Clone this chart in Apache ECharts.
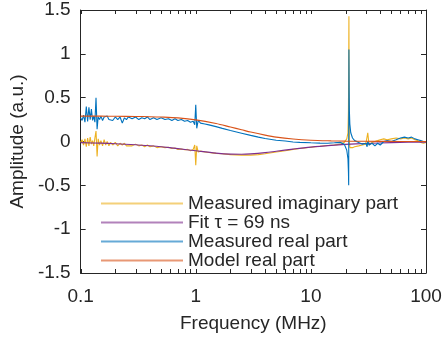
<!DOCTYPE html>
<html>
<head>
<meta charset="utf-8">
<script src="https://cdn.jsdelivr.net/npm/echarts@6/dist/echarts.min.js"></script>
<style>
  html, body { margin: 0; padding: 0; background: #fff; }
  #chart { width: 445px; height: 338px; }
</style>
</head>
<body>
<div id="chart"></div>
<script>
// smooth curves (fit / model), frequency in MHz
const modelFreqs = [0.1, 0.15, 0.2, 0.3, 0.4, 0.5, 0.7, 1, 1.5, 2, 2.5, 3, 4, 5, 7, 10, 15, 20, 30, 50, 70, 100];
const fitImag = [-0.013, -0.019, -0.025, -0.037, -0.049, -0.06, -0.081, -0.106, -0.133, -0.144, -0.145, -0.141,
  -0.127, -0.111, -0.087, -0.064, -0.044, -0.033, -0.022, -0.013, -0.009, -0.007];
const modelReal = [0.29, 0.289, 0.288, 0.286, 0.283, 0.279, 0.269, 0.247, 0.205, 0.165, 0.134, 0.108,
  0.073, 0.05, 0.028, 0.014, 0.007, 0.004, 0.002, 0.001, 0.0005, 0];

// measured curves
const measFreqs = [0.100, 0.103, 0.106, 0.109, 0.112, 0.115, 0.118, 0.121, 0.124, 0.127, 0.130, 0.133, 0.136, 0.139,
  0.142, 0.146, 0.150, 0.155, 0.160, 0.165, 0.170, 0.176, 0.182, 0.19, 0.2, 0.21, 0.22, 0.23, 0.24, 0.25, 0.26,
  0.28, 0.3, 0.32, 0.34, 0.36, 0.38, 0.4, 0.43, 0.46, 0.5, 0.54, 0.58, 0.62, 0.66, 0.7, 0.75, 0.8, 0.85, 0.9,
  0.95, 0.98, 1.0, 1.02, 1.05, 1.1, 1.2, 1.3, 1.5, 1.7, 2, 2.5, 3, 3.5, 4, 5, 6, 7, 8, 10, 12, 14, 16, 18, 19.5,
  20.5, 21.0, 21.2, 21.3, 21.4, 21.5, 21.6, 21.8, 22.2, 23, 24, 26, 28, 30, 30.8, 31.2, 32, 34, 36, 38, 40, 43,
  46, 50, 55, 60, 65, 70, 75, 80, 85, 90, 95, 100];
const measImag = [-0.01, 0.02, -0.04, 0.03, -0.06, 0.04, -0.05, 0.05, -0.03, 0.01, -0.05, 0.04, 0.12, -0.17,
  0.03, -0.04, 0.01, -0.05, 0.02, -0.04, 0.0, -0.05, -0.01, -0.04, -0.01, -0.05, -0.02, -0.04, -0.02, -0.05, -0.03,
  -0.05, -0.03, -0.05, -0.04, -0.06, -0.04, -0.06, -0.05, -0.07, -0.06, -0.07, -0.065, -0.08, -0.075, -0.09, -0.085, -0.095, -0.09, -0.105,
  -0.09, -0.04, -0.27, -0.05, -0.12, -0.11, -0.12, -0.125, -0.135, -0.14, -0.15, -0.155, -0.155, -0.15, -0.14, -0.12, -0.105, -0.09, -0.08, -0.065, -0.055, -0.045, -0.04, -0.03, -0.01,
  0.03, 0.1, 0.35, 0.8, 1.43, 0.3, 0.0, -0.07, -0.08, -0.07, -0.06, -0.05, -0.04, -0.03, -0.02, 0.1, -0.04, -0.01, 0.0, 0.01, 0.02, 0.03,
  0.02, 0.03, 0.04, 0.03, 0.04, 0.03, 0.04, 0.02, 0.01, -0.01, -0.02, -0.01];
const measReal = [0.27, 0.24, 0.30, 0.22, 0.40, 0.23, 0.39, 0.25, 0.37, 0.24, 0.29, 0.22, 0.50, 0.14,
  0.28, 0.25, 0.29, 0.24, 0.28, 0.26, 0.29, 0.25, 0.27, 0.24, 0.28, 0.25, 0.28, 0.21, 0.27, 0.25, 0.28,
  0.26, 0.28, 0.25, 0.27, 0.26, 0.28, 0.25, 0.27, 0.25, 0.27, 0.25, 0.26, 0.24, 0.26, 0.24, 0.25, 0.23, 0.24, 0.22,
  0.23, 0.19, 0.42, 0.15, 0.24, 0.21, 0.20, 0.19, 0.17, 0.15, 0.125, 0.095, 0.07, 0.05, 0.035, 0.015, 0.005, -0.005, -0.01, -0.015, -0.018, -0.02, -0.015, -0.01, -0.03,
  -0.1, -0.2, -0.35, -0.5, 1.05, 0.6, 0.35, 0.2, 0.1, 0.04, 0.01, -0.01, -0.03, -0.02, -0.06, 0.0, -0.04, -0.02, -0.05, -0.02, -0.04, 0.0,
  0.01, 0.0, 0.02, 0.04, 0.05, 0.04, 0.05, 0.03, 0.02, 0.01, 0.0, 0.0];

const xMajor = [0.1, 1, 10, 100];
const xTicks = [0.1, 0.2, 0.3, 0.4, 0.5, 0.6, 0.7, 0.8, 0.9, 1, 2, 3, 4, 5, 6, 7, 8, 9, 10,
  20, 30, 40, 50, 60, 70, 80, 90, 100];

const pairs = (xs, ys) => xs.map((x, i) => [x, ys[i]]);

const textColor = '#262626';
const fontFamily = '"Liberation Sans", Arial, sans-serif';
const fontSize = 19;

const chart = echarts.init(document.getElementById('chart'), null, { renderer: 'canvas' });

const xBase = {
  type: 'log',
  logBase: 10,
  min: 0.1,
  max: 100,
  axisLine: { show: true, onZero: false, lineStyle: { color: textColor, width: 1 } },
  axisTick: { show: false },
  axisLabel: { show: false },
  splitLine: { show: false },
  minorSplitLine: { show: false }
};

const yBase = {
  type: 'value',
  min: -1.5,
  max: 1.5,
  interval: 0.5,
  axisLine: { show: true, onZero: false, lineStyle: { color: textColor, width: 1 } },
  axisTick: { show: true, inside: true, length: 5, lineStyle: { color: textColor } },
  splitLine: { show: false }
};

const lineSeries = (name, data, color, smooth) => ({
  name,
  type: 'line',
  data,
  showSymbol: false,
  symbol: 'none',
  smooth: smooth ? 0.3 : false,
  lineStyle: { color, width: 1.1 },
  itemStyle: { color }
});

chart.setOption({
  animation: false,
  backgroundColor: '#fff',
  textStyle: { fontFamily },
  grid: { left: 71, right: 19, top: 10, bottom: 64, containLabel: false },
  legend: {
    orient: 'vertical',
    left: 95,
    top: 189,
    itemWidth: 82,
    itemHeight: 14,
    itemGap: 0,
    selectedMode: false,
    itemStyle: { opacity: 0 },
    lineStyle: { width: 2, opacity: 0.6 },
    textStyle: { fontSize, color: textColor, fontFamily, lineHeight: 18 },
    data: ['Measured imaginary part', 'Fit \u03c4 = 69 ns', 'Measured real part', 'Model real part']
  },
  xAxis: [
    Object.assign({}, xBase, {
      position: 'bottom',
      name: 'Frequency (MHz)',
      nameLocation: 'middle',
      nameGap: 41,
      nameTextStyle: { fontSize, color: textColor, fontFamily }
    }),
    Object.assign({}, xBase, { position: 'top' })
  ],
  yAxis: [
    Object.assign({}, yBase, {
      position: 'left',
      name: 'Amplitude (a.u.)',
      nameLocation: 'middle',
      nameGap: 52,
      nameTextStyle: { fontSize, color: textColor, fontFamily },
      axisLabel: { show: true, margin: 10, fontSize, lineHeight: 16, color: textColor, fontFamily, formatter: v => String(v) }
    }),
    Object.assign({}, yBase, {
      position: 'right',
      axisLabel: { show: false }
    })
  ],
  series: [
    lineSeries('Measured imaginary part', pairs(measFreqs, measImag), '#EDB120', false),
    lineSeries('Fit \u03c4 = 69 ns', pairs(modelFreqs, fitImag), '#7E2F8E', true),
    lineSeries('Measured real part', pairs(measFreqs, measReal), '#0072BD', false),
    lineSeries('Model real part', pairs(modelFreqs, modelReal), '#D95319', true)
  ]
});

// log-axis ticks (2..9 per decade) and decade labels, placed through the x axis scale
const yTop = chart.convertToPixel({ yAxisIndex: 0 }, 1.5);
const yBottom = chart.convertToPixel({ yAxisIndex: 0 }, -1.5);
const tickLen = 4;
const extras = [];
xTicks.forEach(v => {
  const px = Math.round(chart.convertToPixel({ xAxisIndex: 0 }, v)) + 0.5;
  extras.push({
    type: 'line', silent: true,
    shape: { x1: px, y1: yBottom, x2: px, y2: yBottom - tickLen },
    style: { stroke: textColor, lineWidth: 1 }
  });
  extras.push({
    type: 'line', silent: true,
    shape: { x1: px, y1: yTop, x2: px, y2: yTop + tickLen },
    style: { stroke: textColor, lineWidth: 1 }
  });
});
xMajor.forEach(v => {
  extras.push({
    type: 'text', silent: true,
    x: chart.convertToPixel({ xAxisIndex: 0 }, v),
    y: yBottom + 14,
    style: { text: String(v), fontSize, fontFamily, fill: textColor, align: 'center', verticalAlign: 'top' }
  });
});
chart.setOption({ graphic: extras });
</script>
</body>
</html>
